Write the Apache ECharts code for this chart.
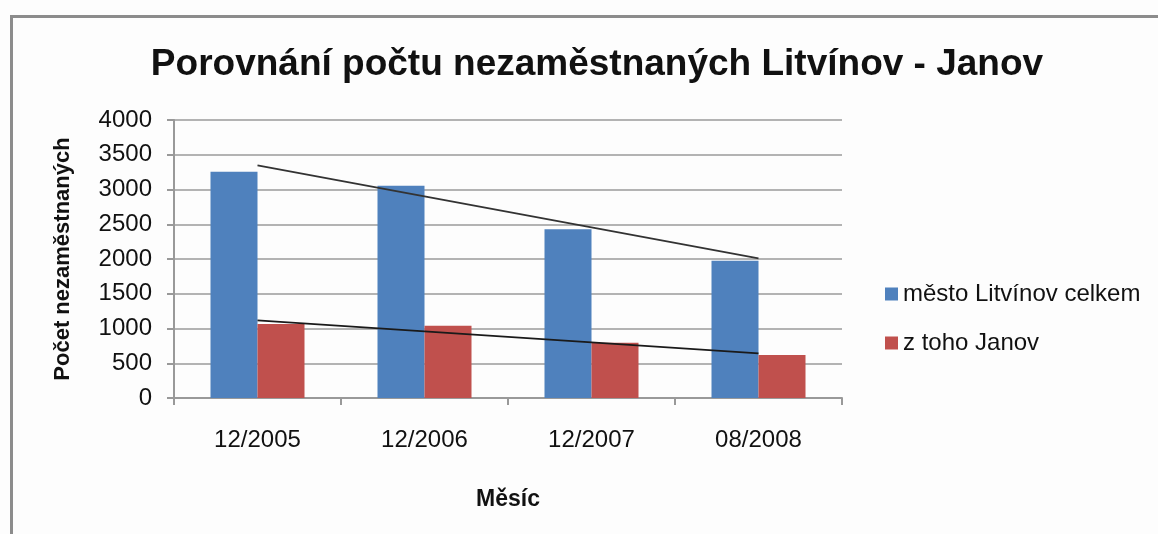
<!DOCTYPE html>
<html>
<head>
<meta charset="utf-8">
<script src="https://cdn.jsdelivr.net/npm/echarts@6/dist/echarts.min.js"></script>
<style>
html,body{margin:0;padding:0;background:#fdfdfd;}
#c{width:1158px;height:534px;}
</style>
</head>
<body>
<div id="c"></div>
<script>
const titleText = 'Porovnání počtu nezaměstnaných Litvínov - Janov';
const categories = ['12/2005', '12/2006', '12/2007', '08/2008'];
const seriesNames = ['město Litvínov celkem', 'z toho Janov'];
const litvinov = [3256, 3055, 2427, 1976];
const janov = [1065, 1040, 796, 619];
const yTicks = [0, 500, 1000, 1500, 2000, 2500, 3000, 3500, 4000];
const yName = 'Počet nezaměstnaných';
const xName = 'Měsíc';

function linearTrend(vals) {
  const n = vals.length;
  let sx = 0, sy = 0, sxx = 0, sxy = 0;
  vals.forEach((v, i) => { const x = i + 1; sx += x; sy += v; sxx += x * x; sxy += x * v; });
  const b = (n * sxy - sx * sy) / (n * sxx - sx * sx);
  const a = (sy - b * sx) / n;
  return vals.map((v, i) => a + b * (i + 1));
}

const font = "'Liberation Sans', Arial, sans-serif";
const chart = echarts.init(document.getElementById('c'), null, {renderer: 'canvas'});
chart.setOption({
  backgroundColor: '#fdfdfd',
  animation: false,
  graphic: [{
    type: 'rect', left: 9, top: 14, shape: {x: 0, y: 0, width: 1200, height: 560},
    style: {fill: 'none', stroke: '#8c8c8c', lineWidth: 3}, silent: true, z: -1
  }],
  title: {
    text: titleText, left: 592, textAlign: 'center', top: 41,
    textStyle: {fontFamily: font, fontWeight: 'bold', fontSize: 37, color: '#111'}
  },
  legend: {
    orient: 'vertical', left: 880, top: 277, itemWidth: 13, itemHeight: 13, itemGap: 25,
    icon: 'rect',
    textStyle: {fontFamily: font, fontSize: 24, color: '#111'},
    data: seriesNames
  },
  grid: {left: 174, top: 120, right: 316, bottom: 136, containLabel: false},
  xAxis: {
    type: 'category', data: categories,
    name: xName, nameLocation: 'middle', nameGap: 90,
    nameTextStyle: {fontFamily: font, fontWeight: 'bold', fontSize: 23, color: '#111'},
    axisLine: {lineStyle: {color: '#999', width: 2}},
    axisTick: {show: true, length: 7, lineStyle: {color: '#999', width: 2}},
    axisLabel: {fontFamily: font, fontSize: 24, color: '#111', margin: 30}
  },
  yAxis: {
    type: 'value', min: yTicks[0], max: yTicks[yTicks.length - 1], interval: 500,
    name: yName, nameLocation: 'middle', nameGap: 100, nameRotate: 90,
    nameTextStyle: {fontFamily: font, fontWeight: 'bold', fontSize: 22, color: '#111'},
    axisLine: {show: true, lineStyle: {color: '#999', width: 2}},
    axisTick: {show: true, length: 7, lineStyle: {color: '#999', width: 2}},
    splitLine: {lineStyle: {color: '#b3b3b3', width: 2}},
    axisLabel: {fontFamily: font, fontSize: 24, color: '#111', margin: 22,
                formatter: v => String(v)}
  },
  series: [
    {name: seriesNames[0], type: 'bar', data: litvinov, barWidth: 47, barGap: '0%',
     itemStyle: {color: '#4f81bd'}},
    {name: seriesNames[1], type: 'bar', data: janov, barWidth: 47, barGap: '0%',
     itemStyle: {color: '#c0504d'}},
    {name: 'trend1', type: 'line', data: linearTrend(litvinov), symbol: 'none', z: 5,
     lineStyle: {color: '#333', width: 1.8}},
    {name: 'trend2', type: 'line', data: linearTrend(janov), symbol: 'none', z: 5,
     lineStyle: {color: '#1a1a1a', width: 1.8}}
  ]
});
</script>
</body>
</html>
